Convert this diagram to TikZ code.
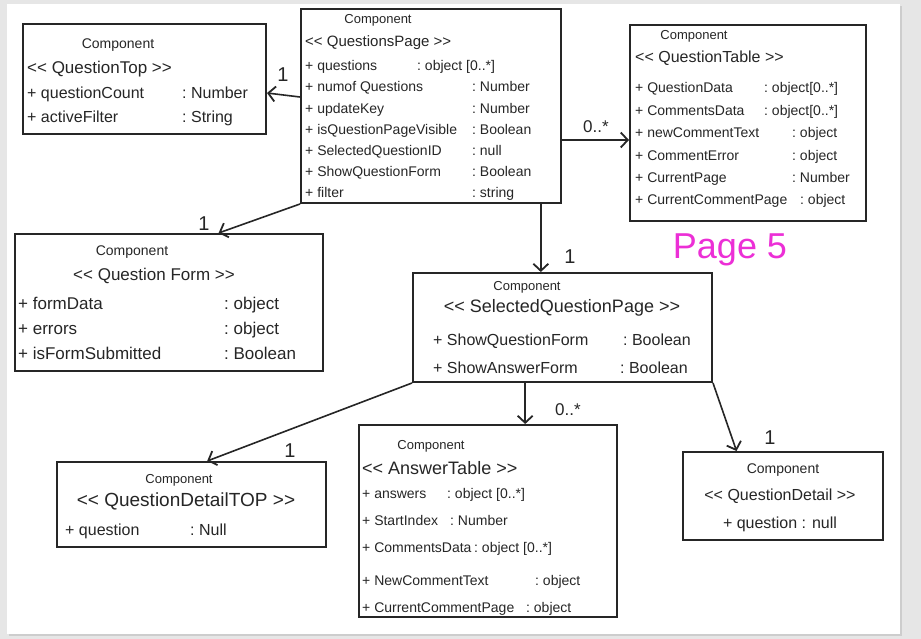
\documentclass[tikz,border=0pt]{standalone}
\usepackage{fontspec}
\setmainfont{Liberation Sans}
\usetikzlibrary{arrows.meta,calc}
\definecolor{ink}{HTML}{262626}
\definecolor{pagegrey}{HTML}{E6E6E6}
\definecolor{shadowgrey}{HTML}{CDCDCD}
\definecolor{magentaink}{HTML}{EC2FD6}
\newcommand\stlt{<\kern0pt<}
\newcommand\stgt{>\kern0pt>}
\newcommand\umlattr[3]{\makebox[#1pt][l]{+\ #2}:\ #3}
\newcommand\fs[1]{\fontsize{#1}{#1}\selectfont}
\tikzset{
  umlbox/.style={draw=ink, line width=2pt, inner sep=0pt, fill=white},
  txt/.style={inner sep=0pt, text=ink},
  hdr/.style={txt, anchor=center},
  lefthdr/.style={txt, anchor=west},
  rows/.style={txt, anchor=north west, align=left},
  conn/.style={draw=ink, line width=1.6pt, -{Straight Barb[length=7pt,width=15pt,line width=1.8pt]}},
  mult/.style={txt, anchor=center},
}
\begin{document}
\begin{tikzpicture}[x=1pt,y=-1pt]
\useasboundingbox (0,0) rectangle (921,639);
\fill[pagegrey] (0,0) rectangle (921,639);
\fill[shadowgrey] (9,6) rectangle (902,636);
\fill[white] (7,4) rectangle (900,634);

% ---------- boxes ----------
\node[umlbox, minimum width=243pt, minimum height=110pt] (qtop) at (144.5,79) {};
\node[umlbox, minimum width=260pt, minimum height=194pt] (qpage) at (431,106) {};
\node[umlbox, minimum width=236pt, minimum height=196pt] (qtable) at (748,123) {};
\node[umlbox, minimum width=308pt, minimum height=137pt] (qform) at (169,302.5) {};
\node[umlbox, minimum width=299pt, minimum height=109pt] (sqp) at (562.5,327.5) {};
\node[umlbox, minimum width=269pt, minimum height=85pt] (qdtop) at (191.5,504.5) {};
\node[umlbox, minimum width=258pt, minimum height=192pt] (atable) at (488,521) {};
\node[umlbox, minimum width=200pt, minimum height=88pt] (qdetail) at (783,496) {};

% ---------- QuestionTop ----------
\node[hdr, font=\fs{14}] (qtop-c) at (118,45) {Component};
\node[lefthdr, font=\fs{17}] (qtop-s) at (27,69) {\stlt{} QuestionTop \stgt};
\node[rows, font=\fontsize{16}{24}\selectfont] (qtop-a) at (27,87) {%
  \umlattr{155}{questionCount}{Number}\\
  \umlattr{155}{activeFilter}{String}};

% ---------- QuestionsPage ----------
\node[hdr, font=\fs{13}] (qpage-c) at (378,20) {Component};
\node[lefthdr, font=\fs{15}] (qpage-s) at (305,43) {\stlt{} QuestionsPage \stgt};
\node[rows, font=\fontsize{14}{21.1}\selectfont] (qpage-a) at (305,60.5) {%
  \umlattr{112}{questions}{object [0..*]}\\
  \umlattr{167}{numof Questions}{Number}\\
  \umlattr{167}{updateKey}{Number}\\
  \umlattr{167}{isQuestionPageVisible}{Boolean}\\
  \umlattr{167}{SelectedQuestionID}{null}\\
  \umlattr{167}{ShowQuestionForm}{Boolean}\\
  \umlattr{167}{filter}{string}};

% ---------- QuestionTable ----------
\node[hdr, font=\fs{13}] (qtable-c) at (694,36) {Component};
\node[lefthdr, font=\fs{16}] (qtable-s) at (635,58) {\stlt{} QuestionTable \stgt};
\node[rows, font=\fontsize{14}{22.4}\selectfont] (qtable-a) at (635,82.5) {%
  \umlattr{129}{QuestionData}{object[0..*]}\\
  \umlattr{129}{CommentsData}{object[0..*]}\\
  \umlattr{157}{newCommentText}{object}\\
  \umlattr{157}{CommentError}{object}\\
  \umlattr{157}{CurrentPage}{Number}\\
  \umlattr{165}{CurrentCommentPage}{object}};
\node[txt, text=magentaink, font=\fs{36}] (page5) at (730,250) {Page 5};

% ---------- QuestionForm ----------
\node[hdr, font=\fs{14}] (qform-c) at (132,252) {Component};
\node[hdr, font=\fs{17}] (qform-s) at (154,276) {\stlt{} Question Form \stgt};
\node[rows, font=\fontsize{17}{25}\selectfont] (qform-a) at (18,297) {%
  \umlattr{206}{formData}{object}\\
  \umlattr{206}{errors}{object}\\
  \umlattr{206}{isFormSubmitted}{Boolean}};

% ---------- SelectedQuestionPage ----------
\node[hdr, font=\fs{13}] (sqp-c) at (527,287) {Component};
\node[hdr, font=\fs{18}] (sqp-s) at (562,308) {\stlt{} SelectedQuestionPage \stgt};
\node[rows, font=\fontsize{16}{28}\selectfont] (sqp-a) at (433,334) {%
  \umlattr{190}{ShowQuestionForm}{Boolean}\\
  \umlattr{187}{ShowAnswerForm}{Boolean}};

% ---------- QuestionDetailTOP ----------
\node[hdr, font=\fs{13}] (qdtop-c) at (179,480) {Component};
\node[hdr, font=\fs{19}] (qdtop-s) at (186,501) {\stlt{} QuestionDetailTOP \stgt};
\node[rows, font=\fontsize{16}{24}\selectfont] (qdtop-a) at (65,524) {%
  \umlattr{125}{question}{Null}};

% ---------- AnswerTable ----------
\node[hdr, font=\fs{13}] (atable-c) at (431,446) {Component};
\node[lefthdr, font=\fs{18}] (atable-s) at (362,468) {\stlt{} AnswerTable \stgt};
\node[rows, font=\fontsize{14}{27}\selectfont] (atable-a) at (362,488) {%
  \umlattr{85}{answers}{object [0..*]}\\
  \umlattr{88}{StartIndex}{Number}\\
  \umlattr{112}{CommentsData}{object [0..*]}\\[6pt]
  \umlattr{173}{NewCommentText}{object}\\
  \umlattr{164}{CurrentCommentPage}{object}};

% ---------- QuestionDetail ----------
\node[hdr, font=\fs{14}] (qdetail-c) at (783,470) {Component};
\node[hdr, font=\fs{16}] (qdetail-s) at (780,496) {\stlt{} QuestionDetail \stgt};
\node[hdr, font=\fs{16}] (qdetail-a) at (780,524) {+ question : null};

% ---------- connectors ----------
\draw[conn] ([yshift=9pt]qpage.west) -- ([yshift=-14pt]qtop.east);
\draw[conn] ([yshift=-34pt]qpage.east) -- ([yshift=-17pt]qtable.west);
\draw[conn] (qpage.south west) -- ($(qform.north west)!0.66!(qform.north east)$);
\coordinate (sqpin) at ($(sqp.north west)!0.428!(sqp.north east)$);
\draw[conn] (sqpin |- qpage.south) -- (sqpin);
\draw[conn] (sqp.south west) -- ($(qdtop.north west)!0.558!(qdtop.north east)$);
\coordinate (atin) at ($(atable.north west)!0.643!(atable.north east)$);
\draw[conn] (atin |- sqp.south) -- (atin);
\draw[conn] (sqp.south east) -- ($(qdetail.north west)!0.27!(qdetail.north east)$);

% ---------- multiplicities ----------
\node[mult, font=\fs{20}] (m1) at (283,75) {1};
\node[mult, font=\fs{17}] (m2) at (596,127) {0..*};
\node[mult, font=\fs{20}] (m3) at (204,224) {1};
\node[mult, font=\fs{20}] (m4) at (570,257) {1};
\node[mult, font=\fs{20}] (m5) at (290,451) {1};
\node[mult, font=\fs{17}] (m6) at (568,410) {0..*};
\node[mult, font=\fs{20}] (m7) at (770,438) {1};
\end{tikzpicture}
\end{document}
